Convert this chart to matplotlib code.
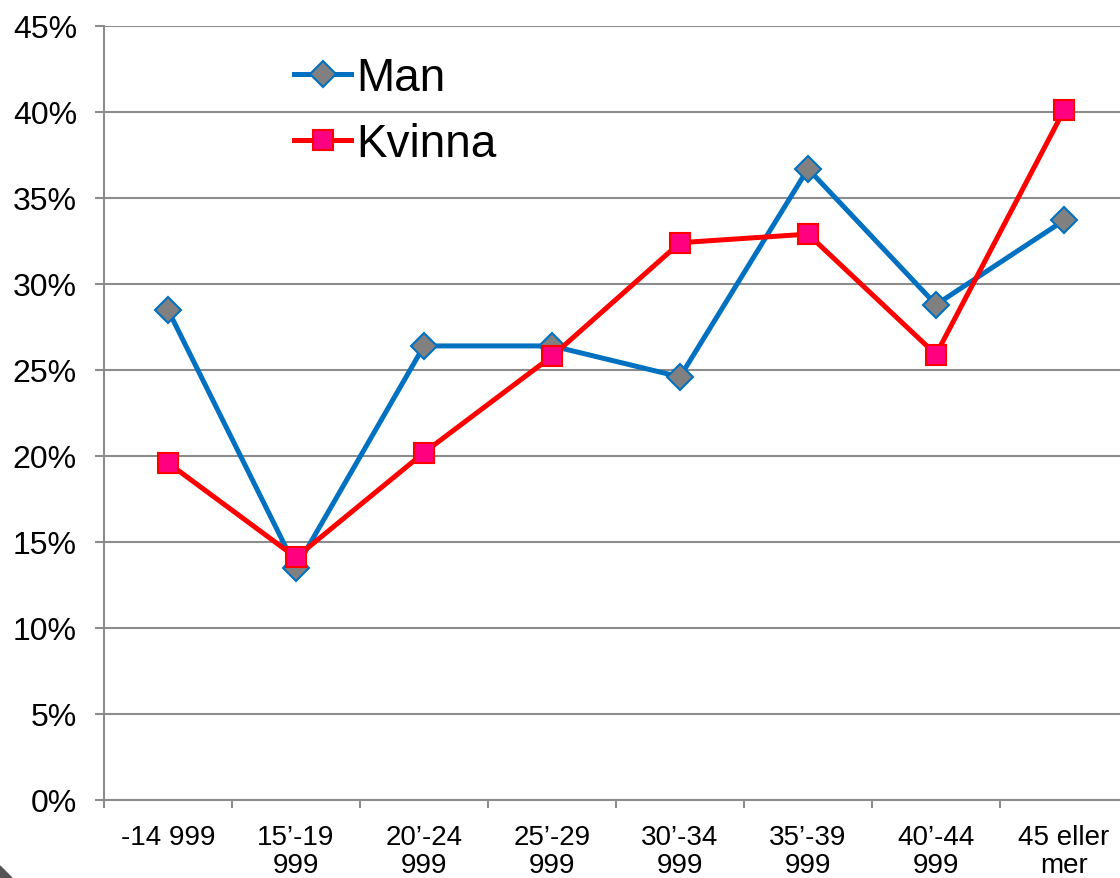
import matplotlib.pyplot as plt
from matplotlib.patches import Polygon

plt.rcParams['font.family'] = ['Liberation Sans', 'DejaVu Sans']

categories = ["-14 999", "15\u2019-19\n999", "20\u2019-24\n999", "25\u2019-29\n999",
              "30\u2019-34\n999", "35\u2019-39\n999", "40\u2019-44\n999", "45 eller\nmer"]
man = [28.5, 13.5, 26.4, 26.4, 24.6, 36.7, 28.8, 33.7]
kvinna = [19.6, 14.1, 20.2, 25.8, 32.4, 32.9, 25.9, 40.1]
yticks = [0, 5, 10, 15, 20, 25, 30, 35, 40, 45]

W, H = 1120, 879
fig = plt.figure(figsize=(W / 100, H / 100), dpi=100)
ax = fig.add_axes([104 / W, 1 - 801 / H, 1024 / W, 774 / H])

x = list(range(len(categories)))
grid_col = '#8c8c8c'

ax.plot(x, man, color='#0070C0', lw=3.6, marker='D', markersize=13,
        markerfacecolor='#808080', markeredgecolor='#0070C0', markeredgewidth=1.5,
        label='Man', zorder=3)
ax.plot(x, kvinna, color='#FF0000', lw=3.6, marker='s', markersize=14.5,
        markerfacecolor='#FF0080', markeredgecolor='#FF0000', markeredgewidth=1.5,
        label='Kvinna', zorder=4)

ax.set_xlim(-0.5, len(categories) - 0.5)
ax.set_ylim(0, 45)
ax.set_yticks(yticks)
ax.set_yticklabels([f"{v}%" for v in yticks])
ax.yaxis.grid(True, color=grid_col, lw=1.5)
ax.set_axisbelow(True)

ax.set_xticks(x)
ax.set_xticklabels(categories, linespacing=1.12)
ax.set_xticks([i - 0.5 for i in range(len(categories) + 1)], minor=True)
ax.tick_params(axis='x', which='major', length=0, labelsize=20, pad=17)
ax.tick_params(axis='x', which='minor', length=6, color=grid_col, width=1.5)
ax.tick_params(axis='y', length=6.5, color=grid_col, width=1.5, labelsize=23, pad=13)

for s in ['top', 'right']:
    ax.spines[s].set_visible(False)
for s in ['left', 'bottom']:
    ax.spines[s].set_color(grid_col)
    ax.spines[s].set_linewidth(1.5)

leg = fig.legend(loc='upper left', bbox_to_anchor=(271 / W, 1 - 34 / H),
                 frameon=False, fontsize=33, handlelength=1.25,
                 handletextpad=0.1, labelspacing=0.48, borderpad=0)

# small dark corner at bottom left
fig.patches.append(Polygon([[0, 0], [0, 12 / H], [12 / W, 0]], closed=True,
                           transform=fig.transFigure, color='#555555'))

fig.savefig('out.png', dpi=100)
